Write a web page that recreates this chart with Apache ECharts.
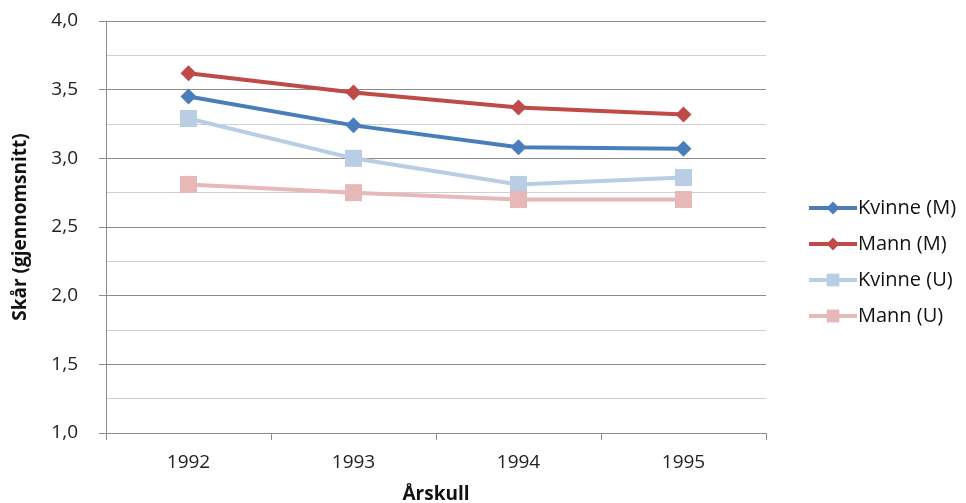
<!DOCTYPE html>
<html>
<head>
<meta charset="utf-8">
<script src="https://cdn.jsdelivr.net/npm/echarts@6/dist/echarts.min.js"></script>
<style>
  html, body { margin: 0; padding: 0; background: #fff; }
  #chart { width: 966px; height: 503px; }
</style>
</head>
<body>
<div id="chart"></div>
<script>
// data
const years = ['1992', '1993', '1994', '1995']
const kvinneM = [3.45, 3.24, 3.08, 3.07]
const mannM = [3.62, 3.48, 3.37, 3.32]
const kvinneU = [3.29, 3.00, 2.81, 2.86]
const mannU = [2.81, 2.75, 2.70, 2.70]

const font = '"Open Sans", "DejaVu Sans", sans-serif'

const makeSeries = (name, data, color, symbol, size) => ({
  name,
  type: 'line',
  data,
  symbol,
  symbolSize: size,
  showSymbol: true,
  lineStyle: { width: 4, color },
  itemStyle: { color },
  emphasis: { disabled: true }
})

const chart = echarts.init(document.getElementById('chart'))
chart.setOption({
  animation: false,
  textStyle: { fontFamily: font },
  grid: { left: 106, right: 200, top: 21, bottom: 70, containLabel: false, outerBoundsMode: 'none' },
  legend: {
    orient: 'vertical',
    left: 802,
    top: 193,
    itemWidth: 48,
    itemHeight: 16,
    itemGap: 16,
    lineStyle: { width: 4 },
    textStyle: { fontSize: 20, color: '#111', fontFamily: font, padding: [0, 0, 0, -4] },
    data: ['Kvinne (M)', 'Mann (M)', 'Kvinne (U)', 'Mann (U)']
  },
  xAxis: {
    type: 'category',
    data: years,
    boundaryGap: true,
    name: 'Årskull',
    nameLocation: 'middle',
    nameGap: 52,
    nameTextStyle: { fontSize: 19, fontWeight: 'bold', color: '#111' },
    axisLine: { lineStyle: { color: '#8c8c8c', width: 1 } },
    axisTick: { show: true, length: 7, lineStyle: { color: '#8c8c8c' } },
    axisLabel: { fontSize: 19, color: '#222', margin: 20 },
    splitLine: { show: false }
  },
  yAxis: {
    type: 'value',
    min: 1.0,
    max: 4.0,
    interval: 0.5,
    name: 'Skår (gjennomsnitt)',
    nameLocation: 'middle',
    nameGap: 76,
    nameTextStyle: { fontSize: 19, fontWeight: 'bold', color: '#111' },
    axisLine: { show: true, lineStyle: { color: '#8c8c8c', width: 1 } },
    axisTick: { show: true, length: 7, lineStyle: { color: '#8c8c8c' } },
    axisLabel: {
      fontSize: 19,
      color: '#222',
      margin: 28,
      formatter: v => v.toFixed(1).replace('.', ',')
    },
    splitLine: { show: true, lineStyle: { color: '#8c8c8c', width: 1 } },
    minorTick: { show: false, splitNumber: 2 },
    minorSplitLine: { show: true, lineStyle: { color: '#d0d0d0', width: 1 } }
  },
  series: [
    makeSeries('Kvinne (M)', kvinneM, '#4a7ebb', 'diamond', 16),
    makeSeries('Mann (M)', mannM, '#be4b48', 'diamond', 16),
    makeSeries('Kvinne (U)', kvinneU, '#b9cde5', 'rect', 17),
    makeSeries('Mann (U)', mannU, '#e6b9b8', 'rect', 17)
  ]
})
</script>
</body>
</html>
